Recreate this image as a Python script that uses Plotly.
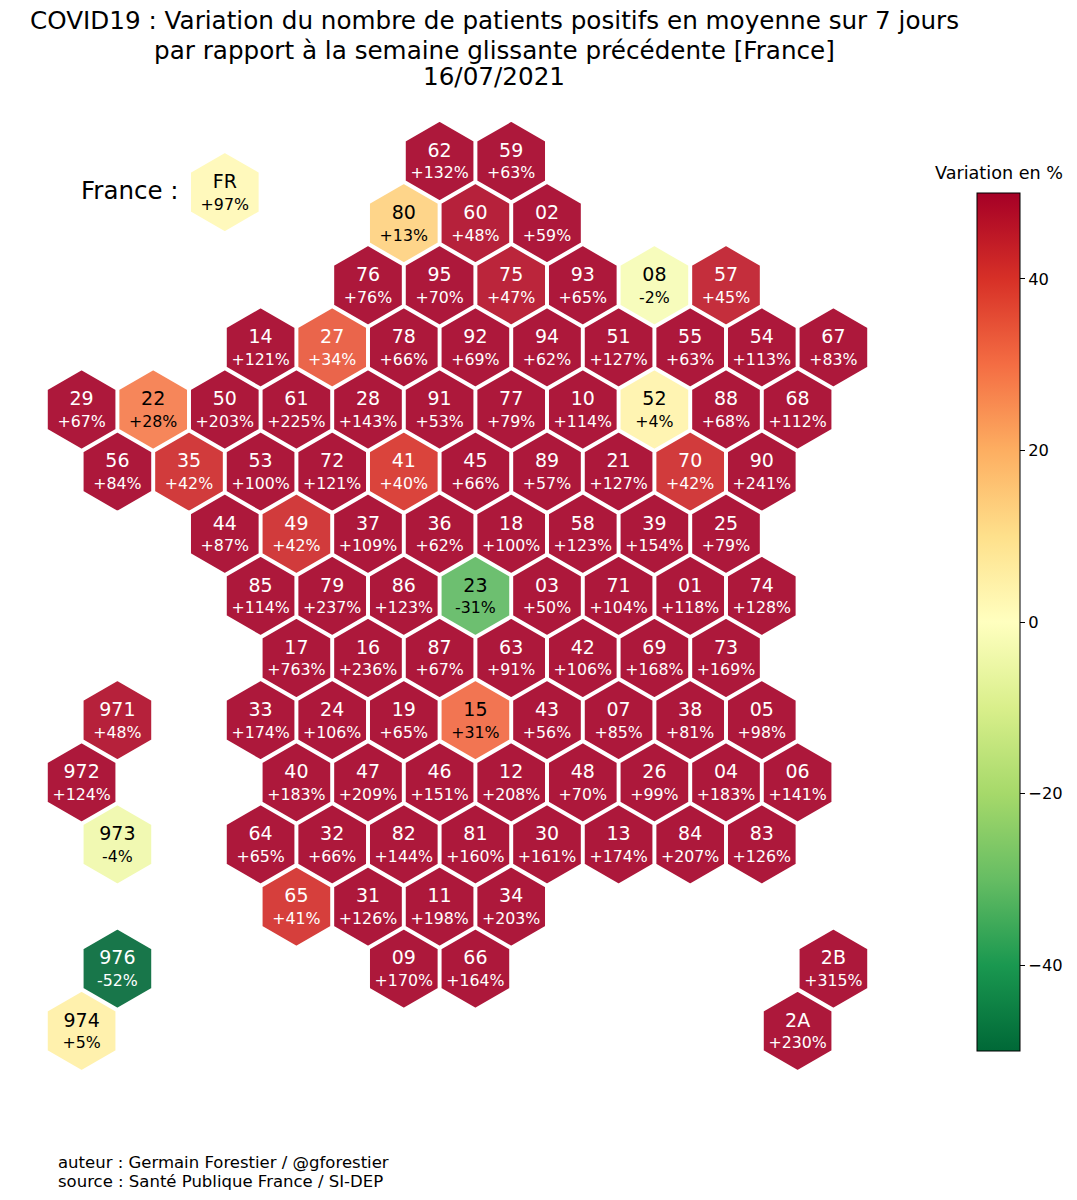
import plotly.graph_objects as go

# grid column / row of each tile, one list per map row
row_codes = [
    ["62", "59"],
    ["80", "60", "02"],
    ["76", "95", "75", "93", "08", "57"],
    ["14", "27", "78", "92", "94", "51", "55", "54", "67"],
    ["29", "22", "50", "61", "28", "91", "77", "10", "52", "88", "68"],
    ["56", "35", "53", "72", "41", "45", "89", "21", "70", "90"],
    ["44", "49", "37", "36", "18", "58", "39", "25"],
    ["85", "79", "86", "23", "03", "71", "01", "74"],
    ["17", "16", "87", "63", "42", "69", "73"],
    ["33", "24", "19", "15", "43", "07", "38", "05"],
    ["40", "47", "46", "12", "48", "26", "04", "06"],
    ["64", "32", "82", "81", "30", "13", "84", "83"],
    ["65", "31", "11", "34"],
    ["09", "66", "2B"],
    ["2A"],
]
row_values = [
    [132, 63],
    [13, 48, 59],
    [76, 70, 47, 65, -2, 45],
    [121, 34, 66, 69, 62, 127, 63, 113, 83],
    [67, 28, 203, 225, 143, 53, 79, 114, 4, 68, 112],
    [84, 42, 100, 121, 40, 66, 57, 127, 42, 241],
    [87, 42, 109, 62, 100, 123, 154, 79],
    [114, 237, 123, -31, 50, 104, 118, 128],
    [763, 236, 67, 91, 106, 168, 169],
    [174, 106, 65, 31, 56, 85, 81, 98],
    [183, 209, 151, 208, 70, 99, 183, 141],
    [65, 66, 144, 160, 161, 174, 207, 126],
    [41, 126, 198, 203],
    [170, 164, 315],
    [230],
]
row_cols = [
    [12, 14],
    [11, 13, 15],
    [10, 12, 14, 16, 18, 20],
    [7, 9, 11, 13, 15, 17, 19, 21, 23],
    [2, 4, 6, 8, 10, 12, 14, 16, 18, 20, 22],
    [3, 5, 7, 9, 11, 13, 15, 17, 19, 21],
    [6, 8, 10, 12, 14, 16, 18, 20],
    [7, 9, 11, 13, 15, 17, 19, 21],
    [8, 10, 12, 14, 16, 18, 20],
    [7, 9, 11, 13, 15, 17, 19, 21],
    [8, 10, 12, 14, 16, 18, 20, 22],
    [7, 9, 11, 13, 15, 17, 19, 21],
    [8, 10, 12, 14],
    [11, 13, 23],
    [22],
]

# overseas departments sit on the left of the map
outre_mer_codes = ["971", "972", "973", "976", "974"]
outre_mer_values = [48, 124, -4, -52, 5]
outre_mer_cols = [3, 2, 3, 3, 2]
outre_mer_rows = [9, 10, 11, 13, 14]

# national tile: colour is on the variation scale, not the label value
fr_code = "FR"
fr_label = 97
fr_color_value = 2
fr_col = 6
fr_row = 0.5

title_lines = [
    "COVID19 : Variation du nombre de patients positifs en moyenne sur 7 jours",
    "par rapport à la semaine glissante précédente [France]",
    "16/07/2021",
]
footer_lines = [
    "auteur : Germain Forestier / @gforestier",
    "source : Santé Publique France / SI-DEP",
]

# the page body keeps its 8px margin, so the figure starts at (8, 8)
PAGE_MARGIN = 8
WIDTH = 1077 - 2 * PAGE_MARGIN
HEIGHT = 1200 - 2 * PAGE_MARGIN
FONT = "DejaVu Sans"

# pixels of the grid in the figure
COL_PX = 35.8
ROW_PX = 62.13
X0_PX = 10.0 - PAGE_MARGIN
Y0_PX = 161.0 - PAGE_MARGIN

codes, values, cols, rows = [], [], [], []
for r, line in enumerate(row_codes):
    codes += line
    values += row_values[r]
    cols += row_cols[r]
    rows += [r] * len(line)
codes += outre_mer_codes
values += outre_mer_values
cols += outre_mer_cols
rows += outre_mer_rows


def px_x(x):
    return (x - PAGE_MARGIN) / WIDTH


def px_y(y):
    return 1 - (y - PAGE_MARGIN) / HEIGHT


def label(v):
    return f"{v:+d}%"


def text_color(v):
    return "black" if abs(v) < 33 else "white"


def tile_traces(t_cols, t_rows, t_codes, t_labels, t_colors, t_text_colors):
    hexes = go.Scatter(
        x=t_cols, y=t_rows, mode="markers", hoverinfo="skip",
        marker=dict(
            symbol="hexagon", size=81, opacity=0.9, color=t_colors,
            coloraxis="coloraxis", line=dict(color="white", width=2.5),
        ),
    )
    top = go.Scatter(
        x=t_cols, y=[r - 9 / ROW_PX for r in t_rows], mode="text",
        text=t_codes, textposition="middle center", hoverinfo="skip",
        textfont=dict(family=FONT, size=19, color=t_text_colors),
    )
    bottom = go.Scatter(
        x=t_cols, y=[r + 13.5 / ROW_PX for r in t_rows], mode="text",
        text=t_labels, textposition="middle center", hoverinfo="skip",
        textfont=dict(family=FONT, size=15.8, color=t_text_colors),
    )
    return [hexes, top, bottom]


fig = go.Figure()
fig.add_traces(tile_traces(
    cols, rows, codes, [label(v) for v in values], values,
    [text_color(v) for v in values],
))
fig.add_traces(tile_traces(
    [fr_col], [fr_row], [fr_code], [label(fr_label)], [fr_color_value], ["black"],
))

annotations = []
for text, y_px in zip(title_lines, [21, 50, 77]):
    annotations.append(dict(
        text=text, x=px_x(494), y=px_y(y_px), xref="paper", yref="paper",
        xanchor="center", yanchor="middle", showarrow=False,
        font=dict(family=FONT, size=24.65, color="black"),
    ))
for text, y_px in zip(footer_lines, [1162, 1181]):
    annotations.append(dict(
        text=text, x=px_x(56), y=px_y(y_px), xref="paper", yref="paper",
        xanchor="left", yanchor="middle", showarrow=False,
        font=dict(family=FONT, size=16.5, color="black"),
    ))
annotations.append(dict(
    text="France :", x=px_x(181), y=px_y(191), xref="paper", yref="paper",
    xanchor="right", yanchor="middle", showarrow=False,
    font=dict(family=FONT, size=24.5, color="black"),
))
annotations.append(dict(
    text="Variation en %", x=px_x(998.5), y=px_y(173), xref="paper", yref="paper",
    xanchor="center", yanchor="middle", showarrow=False,
    font=dict(family=FONT, size=17.6, color="black"),
))

fig.update_layout(
    width=WIDTH,
    height=HEIGHT,
    margin=dict(l=0, r=0, t=0, b=0, autoexpand=False),
    paper_bgcolor="white",
    plot_bgcolor="white",
    showlegend=False,
    annotations=annotations,
    xaxis=dict(
        range=[-X0_PX / COL_PX, (WIDTH - X0_PX) / COL_PX],
        visible=False, fixedrange=True,
    ),
    yaxis=dict(
        range=[(HEIGHT - Y0_PX) / ROW_PX, -Y0_PX / ROW_PX],
        visible=False, fixedrange=True,
    ),
    coloraxis=dict(
        colorscale="RdYlGn_r",
        cmin=-50,
        cmax=50,
        colorbar=dict(
            x=px_x(977), xanchor="left", xpad=0,
            y=px_y(193), yanchor="top", ypad=0,
            len=858 / HEIGHT, lenmode="fraction",
            thickness=43, thicknessmode="pixels",
            outlinecolor="black", outlinewidth=1,
            ticks="outside", ticklen=5, tickwidth=1, tickcolor="black",
            tick0=0, dtick=20,
            tickfont=dict(family=FONT, size=16.3, color="black"),
        ),
    ),
)

fig.write_html("out.html")
